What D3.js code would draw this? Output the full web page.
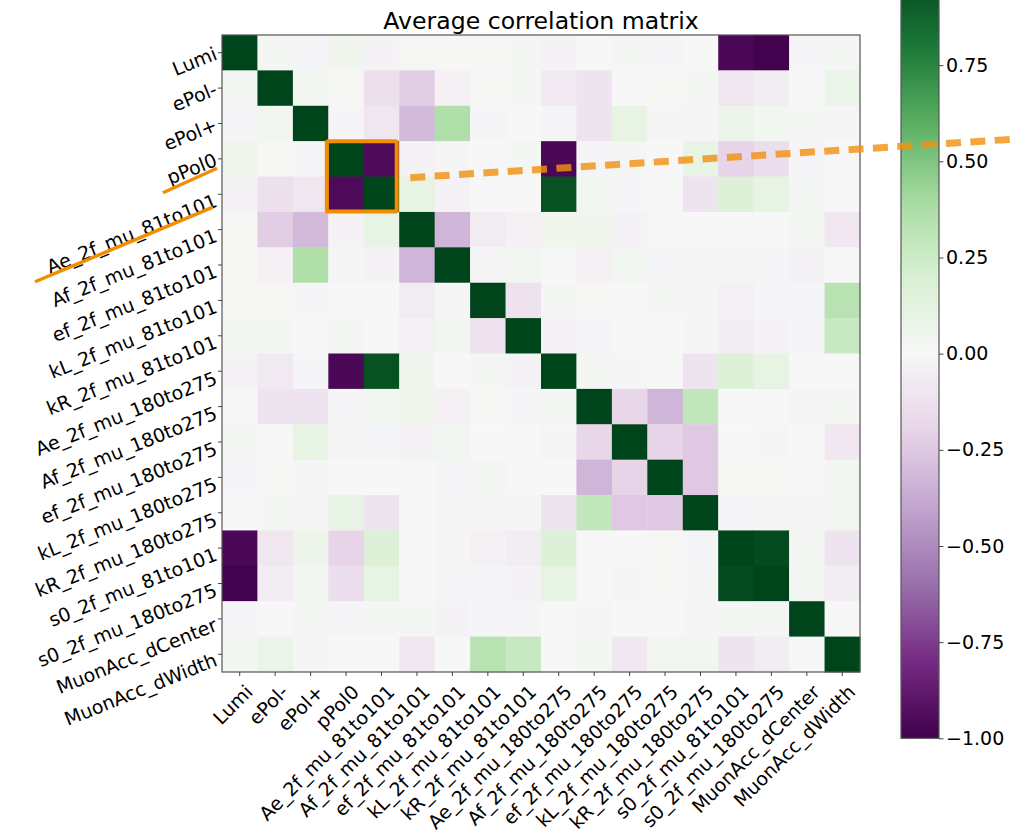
<!DOCTYPE html>
<html>
<head>
<meta charset="utf-8">
<script src="https://cdnjs.cloudflare.com/ajax/libs/d3/7.8.5/d3.min.js"></script>
<style>
  body { margin: 0; background: #fff; }
  svg { display: block; font-family: "DejaVu Sans", sans-serif; }
</style>
</head>
<body>
<div id="chart"></div>
<script>
var W = 1010, H = 830;

// parameter names (rows and columns)
var labels = ["Lumi", "ePol-", "ePol+", "pPol0",
  "Ae_2f_mu_81to101", "Af_2f_mu_81to101", "ef_2f_mu_81to101", "kL_2f_mu_81to101", "kR_2f_mu_81to101",
  "Ae_2f_mu_180to275", "Af_2f_mu_180to275", "ef_2f_mu_180to275", "kL_2f_mu_180to275", "kR_2f_mu_180to275",
  "s0_2f_mu_81to101", "s0_2f_mu_180to275", "MuonAcc_dCenter", "MuonAcc_dWidth"];

// correlation values, one row per parameter
var corr = [
  [ 1.00, 0.02,-0.02, 0.05,-0.03, 0.01, 0.01, 0.01, 0.03,-0.03, 0.00, 0.03,-0.02, 0.00,-0.96,-0.99,-0.02, 0.03],
  [ 0.02, 1.00, 0.04, 0.01,-0.13,-0.23,-0.04, 0.01, 0.02,-0.08,-0.11, 0.00, 0.01, 0.02,-0.10,-0.06, 0.00, 0.08],
  [-0.02, 0.04, 1.00,-0.02,-0.10,-0.31, 0.36,-0.02, 0.00,-0.02,-0.11, 0.11,-0.01,-0.01, 0.07, 0.04, 0.03,-0.01],
  [ 0.05, 0.01,-0.02, 1.00,-0.95,-0.03,-0.01, 0.00, 0.03,-0.96,-0.02,-0.01, 0.00, 0.10,-0.20,-0.14,-0.02, 0.00],
  [-0.03,-0.13,-0.10,-0.95, 1.00, 0.11,-0.03, 0.00, 0.00, 0.95, 0.04,-0.02, 0.00,-0.11, 0.17, 0.11, 0.02, 0.00],
  [ 0.01,-0.23,-0.31,-0.03, 0.11, 1.00,-0.33,-0.07,-0.04, 0.05, 0.05,-0.03, 0.00, 0.00, 0.00, 0.00, 0.02,-0.09],
  [ 0.01,-0.04, 0.36,-0.01,-0.03,-0.33, 1.00,-0.01, 0.04, 0.00,-0.04, 0.04,-0.02,-0.01,-0.01,-0.02,-0.03, 0.00],
  [ 0.01, 0.01,-0.02, 0.00, 0.00,-0.07,-0.01, 1.00,-0.12, 0.03, 0.01, 0.00, 0.02,-0.01,-0.04,-0.02,-0.02, 0.33],
  [ 0.03, 0.02, 0.00, 0.03, 0.00,-0.04, 0.04,-0.12, 1.00,-0.03,-0.02, 0.00, 0.00,-0.01,-0.06,-0.03,-0.02, 0.27],
  [-0.03,-0.08,-0.02,-0.96, 0.95, 0.05, 0.00, 0.03,-0.03, 1.00, 0.03,-0.01, 0.00,-0.11, 0.18, 0.11, 0.00, 0.00],
  [ 0.00,-0.11,-0.11,-0.02, 0.04, 0.05,-0.04, 0.01,-0.02, 0.03, 1.00,-0.19,-0.33, 0.29, 0.00, 0.00,-0.01, 0.03],
  [ 0.03, 0.00, 0.11,-0.01,-0.02,-0.03, 0.04, 0.00, 0.00,-0.01,-0.19, 1.00,-0.20,-0.25, 0.00,-0.01, 0.00,-0.09],
  [-0.02, 0.01,-0.01, 0.00, 0.00, 0.00,-0.02, 0.02, 0.00, 0.00,-0.33,-0.20, 1.00,-0.25, 0.01, 0.01, 0.00, 0.04],
  [ 0.00, 0.02,-0.01, 0.10,-0.11, 0.00,-0.01,-0.01,-0.01,-0.11, 0.29,-0.25,-0.25, 1.00,-0.02,-0.01,-0.01, 0.04],
  [-0.96,-0.10, 0.07,-0.20, 0.17, 0.00,-0.01,-0.04,-0.06, 0.18, 0.00, 0.00, 0.01,-0.02, 1.00, 0.97, 0.02,-0.11],
  [-0.99,-0.06, 0.04,-0.14, 0.11, 0.00,-0.02,-0.02,-0.03, 0.11, 0.00,-0.01, 0.01,-0.01, 0.97, 1.00, 0.02,-0.06],
  [-0.02, 0.00, 0.03,-0.02, 0.02, 0.02,-0.03,-0.02,-0.02, 0.00,-0.01, 0.00, 0.00,-0.01, 0.02, 0.02, 1.00, 0.00],
  [ 0.03, 0.08,-0.01, 0.00, 0.00,-0.09, 0.00, 0.33, 0.27, 0.00, 0.03,-0.09, 0.04, 0.04,-0.11,-0.06, 0.00, 1.00]
];

// colorbar ticks (the +1.00 one is above the visible area)
var cbarTicks = [-1, -0.75, -0.5, -0.25, 0, 0.25, 0.5, 0.75];

// PRGn (matplotlib / colorbrewer nodes, linear in RGB)
var prgn = ["#40004b","#762a83","#9970ab","#c2a5cf","#e7d4e8","#f7f7f7",
            "#d9f0d3","#a6dba0","#5aae61","#1b7837","#00441b"];

var orange = "#f28c00";

var svg = d3.select("#chart").append("svg")
  .attr("width", W)
  .attr("height", H);

var x = d3.scaleBand().domain(labels).range([222, 860]);
var y = d3.scaleBand().domain(labels).range([35, 672]);
var bw = x.bandwidth(), bh = y.bandwidth();

var color = d3.scaleLinear()
  .domain(prgn.map(function(d, i) { return -1 + i * 0.2; }))
  .range(prgn)
  .interpolate(d3.interpolateRgb)
  .clamp(true);

// flatten into cells
var cells = [];
corr.forEach(function(row, i) {
  row.forEach(function(v, j) {
    cells.push({ r: labels[i], c: labels[j], v: v });
  });
});

svg.append("g").selectAll("rect")
  .data(cells)
  .enter().append("rect")
  .attr("x", function(d) { return x(d.c); })
  .attr("y", function(d) { return y(d.r); })
  .attr("width", bw + 0.4)
  .attr("height", bh + 0.4)
  .attr("fill", function(d) { return color(d.v); });

// frame
svg.append("rect")
  .attr("x", 222).attr("y", 35)
  .attr("width", 638).attr("height", 637)
  .attr("fill", "none")
  .attr("stroke", "#555")
  .attr("stroke-width", 1.2);

// y axis
var yAxis = svg.append("g")
  .attr("transform", "translate(222,0)")
  .style("color", "#444")
  .call(d3.axisLeft(y).tickSize(4).tickSizeOuter(0));
yAxis.select(".domain").remove();
yAxis.selectAll("text")
  .attr("x", 0).attr("y", 0)
  .attr("dy", "0.76em")
  .attr("text-anchor", "end")
  .style("font-size", "19px")
  .style("fill", "#000")
  .style("font-family", "DejaVu Sans")
  .attr("transform", function() {
    // short labels sit a little higher than long ones in the reference
    var len = this.getComputedTextLength();
    var up = Math.max(1, 9 - 0.04 * len);
    return "translate(-9," + (-up) + ") rotate(-22)";
  });

// x axis
var xAxis = svg.append("g")
  .attr("transform", "translate(0,672)")
  .style("color", "#444")
  .call(d3.axisBottom(x).tickSize(4).tickSizeOuter(0));
xAxis.select(".domain").remove();
xAxis.selectAll("text")
  .attr("x", 0).attr("y", 0)
  .attr("dy", "0.76em")
  .attr("text-anchor", "end")
  .attr("transform", "translate(4,11) rotate(-45)")
  .style("font-size", "19px")
  .style("fill", "#000")
  .style("font-family", "DejaVu Sans");

// title
svg.append("text")
  .attr("x", 541).attr("y", 29)
  .attr("text-anchor", "middle")
  .style("font-size", "23.6px")
  .text("Average correlation matrix");

// colorbar
var cy = d3.scaleLinear().domain([-1, 1]).range([738.3, -31]);
var grad = svg.append("defs").append("linearGradient")
  .attr("id", "cbar")
  .attr("x1", 0).attr("y1", 1).attr("x2", 0).attr("y2", 0);
grad.selectAll("stop")
  .data(prgn)
  .enter().append("stop")
  .attr("offset", function(d, i) { return (i / (prgn.length - 1)); })
  .attr("stop-color", function(d) { return d; });

svg.append("rect")
  .attr("x", 901).attr("y", cy(1))
  .attr("width", 38).attr("height", cy(-1) - cy(1))
  .attr("fill", "url(#cbar)")
  .attr("stroke", "#555")
  .attr("stroke-width", 1.2);

var cAxis = svg.append("g")
  .attr("transform", "translate(939,0)")
  .style("color", "#444")
  .call(d3.axisRight(cy).tickValues(cbarTicks).tickSize(4.5).tickPadding(2.5)
    .tickFormat(d3.format(".2f")));
cAxis.select(".domain").remove();
cAxis.selectAll("text")
  .style("font-size", "19px")
  .style("fill", "#000")
  .style("font-family", "DejaVu Sans");

// annotations
var c3 = y(labels[3]) + bh / 2, c4 = y(labels[4]) + bh / 2;

svg.append("rect")
  .attr("x", x(labels[3]) - 1.5)
  .attr("y", y(labels[3]))
  .attr("width", 2 * bw - 1)
  .attr("height", 2 * bh - 0.5)
  .attr("rx", 1.5)
  .attr("fill", "none")
  .attr("stroke", orange)
  .attr("stroke-width", 4);

svg.append("line")
  .attr("x1", 163).attr("y1", c3 + 34)
  .attr("x2", 217).attr("y2", c3 + 9.5)
  .attr("stroke", orange)
  .attr("stroke-width", 3.3);

svg.append("line")
  .attr("x1", 35).attr("y1", c4 + 87.5)
  .attr("x2", 213).attr("y2", c4 + 12.8)
  .attr("stroke", orange)
  .attr("stroke-width", 3.5);

svg.append("line")
  .attr("x1", 410.3).attr("y1", c3 + 18.8)
  .attr("x2", 1030).attr("y2", c3 + 18.8 - 0.0638 * (1030 - 410.3))
  .attr("stroke", "#f19112")
  .attr("stroke-opacity", 0.82)
  .attr("stroke-width", 7)
  .attr("stroke-dasharray", "15,9.4");
</script>
</body>
</html>
